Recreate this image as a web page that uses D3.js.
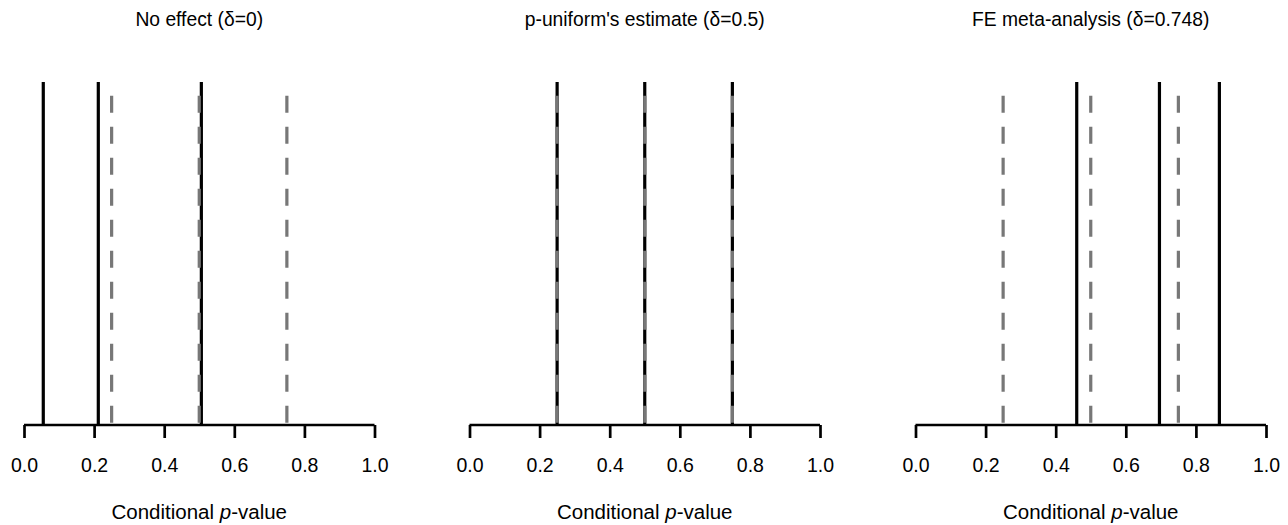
<!DOCTYPE html>
<html>
<head>
<meta charset="utf-8">
<script src="https://cdn.jsdelivr.net/npm/d3@7/dist/d3.min.js"></script>
<style>
  html, body { margin: 0; padding: 0; background: #fff; }
  svg { display: block; }
  text { font-family: "Liberation Sans", Arial, sans-serif; fill: #000; }
</style>
</head>
<body>
<svg id="chart" width="1288" height="525"></svg>
<script>
// ---- data ----
const panelTitles = ["No effect (\u03b4=0)", "p-uniform's estimate (\u03b4=0.5)", "FE meta-analysis (\u03b4=0.748)"];
const observedP = [
  [0.055, 0.212, 0.506],
  [0.25, 0.5, 0.75],
  [0.46, 0.696, 0.867]
];
const expectedP = [
  [0.25, 0.5, 0.75],
  [0.25, 0.5, 0.75],
  [0.25, 0.5, 0.75]
];
const observedHeight = 1;
const expectedHeight = 0.96;
const tickValues = [0, 0.2, 0.4, 0.6, 0.8, 1.0];
const axisTitle = "Conditional ";

// ---- layout ----
const svg = d3.select("#chart");
const panelLeft = [24, 469.5, 915.5];
const panelWidth = 350.5;
const axisY = 425;
const topY = 82;

const y = d3.scaleLinear().domain([0, 1]).range([axisY, topY]);

panelTitles.forEach((title, i) => {
  const x = d3.scaleLinear().domain([0, 1]).range([panelLeft[i], panelLeft[i] + panelWidth]);
  const g = svg.append("g");
  const cx = panelLeft[i] + panelWidth / 2;

  // title
  g.append("text")
    .attr("x", cx).attr("y", 26)
    .attr("text-anchor", "middle")
    .style("font-size", "19.3px")
    .text(title);

  // observed (black solid)
  g.selectAll("line.obs").data(observedP[i]).enter().append("line")
    .attr("class", "obs")
    .attr("x1", d => x(d)).attr("x2", d => x(d))
    .attr("y1", y(observedHeight)).attr("y2", y(0))
    .attr("stroke", "#000").attr("stroke-width", 3.2);

  // expected (gray dashed)
  g.selectAll("line.exp").data(expectedP[i]).enter().append("line")
    .attr("class", "exp")
    .attr("x1", d => x(d)).attr("x2", d => x(d))
    .attr("y1", y(expectedHeight)).attr("y2", y(0))
    .attr("stroke", "#777").attr("stroke-width", 3.2)
    .attr("stroke-dasharray", "17,14");

  // axis
  const axis = d3.axisBottom(x)
    .tickValues(tickValues)
    .tickFormat(d3.format(".1f"))
    .tickSize(13)
    .tickSizeOuter(0)
    .tickPadding(20);
  const ag = g.append("g").attr("transform", `translate(0,${axisY})`).call(axis);
  ag.select(".domain").attr("stroke", "#000").attr("stroke-width", 2.7).attr("d", `M${x(0)},0H${x(1)}`);
  ag.selectAll(".tick line").attr("stroke", "#000").attr("stroke-width", 2.7);
  ag.selectAll(".tick text").style("font-size", "19.5px").attr("fill", "#000");

  // axis title
  const t = g.append("text")
    .attr("x", cx).attr("y", 519)
    .attr("text-anchor", "middle")
    .style("font-size", "20.5px");
  t.append("tspan").text(axisTitle);
  t.append("tspan").style("font-style", "italic").text("p");
  t.append("tspan").text("-value");
});
</script>
</body>
</html>
